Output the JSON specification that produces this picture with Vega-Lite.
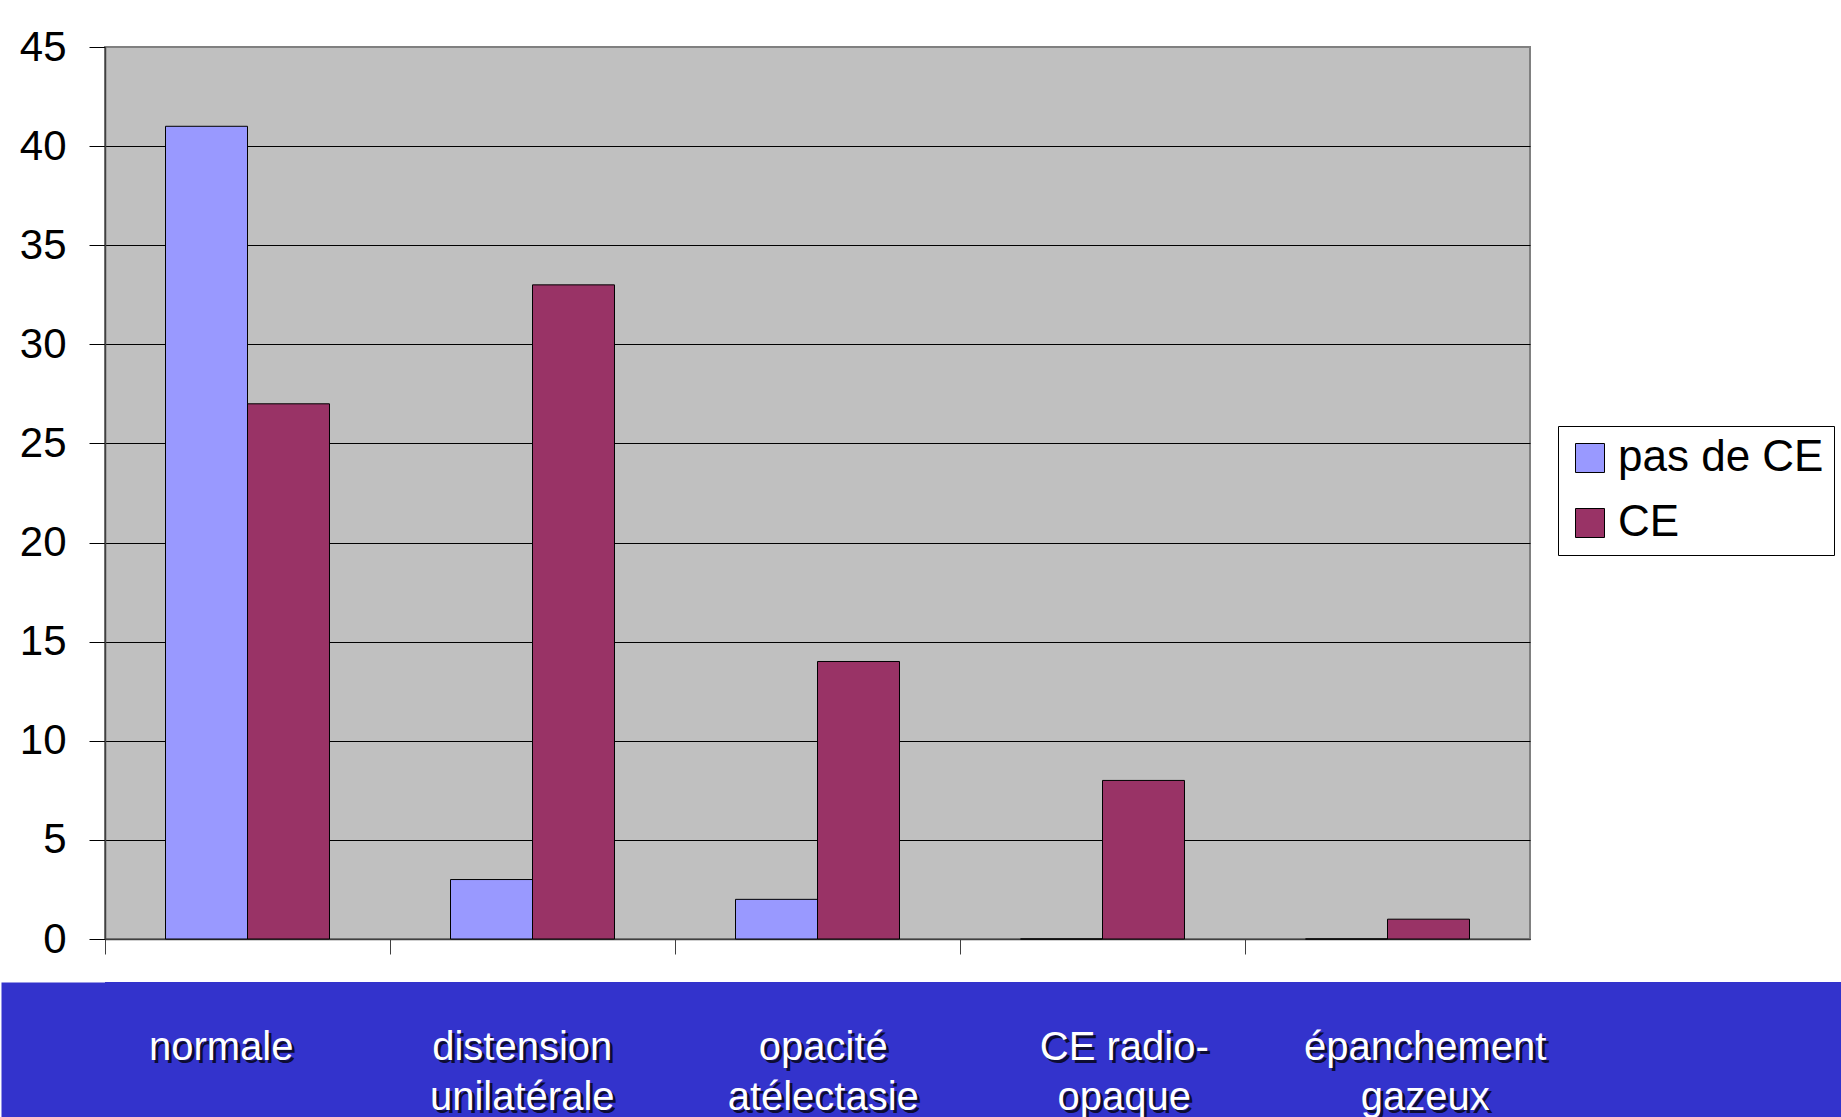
{
  "$schema": "https://vega.github.io/schema/vega-lite/v6.json",
  "background": "white",
  "padding": {"left": 0, "top": 25, "right": 0, "bottom": 0},
  "spacing": 21,
  "config": {"font": "Liberation Sans"},
  "datasets": {
    "counts": [
      {"cat": "normale", "serie": "pas de CE", "n": 41},
      {"cat": "normale", "serie": "CE", "n": 27},
      {"cat": "distension\nunilatérale", "serie": "pas de CE", "n": 3},
      {"cat": "distension\nunilatérale", "serie": "CE", "n": 33},
      {"cat": "opacité\natélectasie", "serie": "pas de CE", "n": 2},
      {"cat": "opacité\natélectasie", "serie": "CE", "n": 14},
      {"cat": "CE radio-\nopaque", "serie": "pas de CE", "n": 0},
      {"cat": "CE radio-\nopaque", "serie": "CE", "n": 8},
      {"cat": "épanchement\ngazeux", "serie": "pas de CE", "n": 0},
      {"cat": "épanchement\ngazeux", "serie": "CE", "n": 1}
    ]
  },
  "vconcat": [
    {
      "width": 1425,
      "height": 892,
      "data": {"name": "counts"},
      "view": {"fill": "#C0C0C0", "stroke": "#808080", "strokeWidth": 2},
      "mark": {"type": "bar", "stroke": "black", "strokeWidth": 1},
      "encoding": {
        "x": {
          "field": "cat", "type": "nominal", "sort": null,
          "scale": {"paddingInner": 0, "paddingOuter": 0},
          "axis": {"labels": false, "title": null, "bandPosition": 0, "tickSize": 15, "tickColor": "#404040", "domainColor": "#404040", "domainWidth": 1.5, "grid": false}
        },
        "xOffset": {
          "field": "serie", "sort": ["pas de CE", "CE"],
          "scale": {"paddingInner": 0, "paddingOuter": 0.738}
        },
        "y": {
          "field": "n", "type": "quantitative",
          "scale": {"domain": [0, 45], "nice": false},
          "axis": {
            "values": [0, 5, 10, 15, 20, 25, 30, 35, 40, 45],
            "title": null, "grid": true,
            "gridColor": {"condition": {"test": "datum.value === 45", "value": "#808080"}, "value": "black"},
            "tickSize": 16, "tickColor": "black", "domainColor": "#404040", "domainWidth": 1.5,
            "labelFontSize": 42, "labelColor": "black", "labelPadding": 23, "minExtent": 104
          }
        },
        "color": {
          "field": "serie", "type": "nominal",
          "scale": {"domain": ["pas de CE", "CE"], "range": ["#9999FF", "#993366"]},
          "legend": {
            "orient": "none", "legendX": 1453, "legendY": 379, "title": null,
            "fillColor": "white", "strokeColor": "black", "padding": 10,
            "symbolType": "square", "symbolSize": 841, "symbolStrokeColor": "black", "symbolStrokeWidth": 1, "symbolOpacity": 1,
            "labelFontSize": 44, "labelColor": "black", "labelOffset": 6, "rowPadding": 21, "labelLimit": 400
          }
        }
      }
    },
    {
      "width": 1841,
      "height": 137,
      "data": {"name": "counts"},
      "transform": [{"filter": "datum.serie === 'CE'"}],
      "view": {"fill": "#3333CC", "stroke": null},
      "encoding": {
        "x": {
          "field": "cat", "type": "nominal", "sort": null,
          "scale": {"type": "band", "range": [-104, 1737], "paddingInner": 0, "paddingOuter": 0.558, "align": 0.2075},
          "axis": {"orient": "bottom", "labels": false, "ticks": false, "title": null, "grid": false, "domainColor": "#3333CC", "domainWidth": 137, "offset": -68.5, "zindex": 0}
        },
        "text": {"field": "cat"}
      },
      "layer": [
        {"mark": {"type": "text", "lineBreak": "\n", "fontSize": 40, "lineHeight": 50, "color": "#0d0d33", "baseline": "alphabetic", "align": "center", "dx": 3, "dy": 12.5}},
        {"mark": {"type": "text", "lineBreak": "\n", "fontSize": 40, "lineHeight": 50, "color": "white", "baseline": "alphabetic", "align": "center", "dy": 9.5}}
      ]
    }
  ]
}
